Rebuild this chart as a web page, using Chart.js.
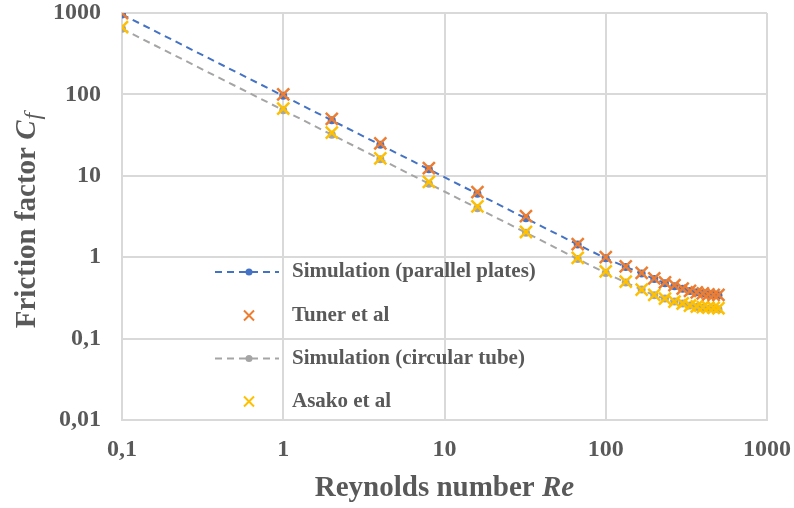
<!DOCTYPE html>
<html>
<head>
<meta charset="utf-8">
<script src="https://cdn.jsdelivr.net/npm/chart.js@4"></script>
<style>
  body { margin: 0; background: #fff; }
  canvas { display: block; }
</style>
</head>
<body>
<canvas id="chart" width="794" height="508"></canvas>
<script>
// Reynolds numbers (x)
const reynolds = [0.1, 1, 2, 4, 8, 16, 32, 67, 100, 133, 167, 200, 233, 267, 300, 333, 367, 400, 433, 467, 500];

// friction factor values
const simParallel = [960, 96, 48, 24, 12, 6, 3, 1.43, 0.97, 0.76, 0.63, 0.54, 0.48, 0.44, 0.41, 0.385, 0.37, 0.36, 0.35, 0.345, 0.34];
const tuner       = [1000, 100, 50, 25, 12.4, 6.3, 3.2, 1.45, 1.0, 0.77, 0.64, 0.55, 0.49, 0.455, 0.41, 0.385, 0.37, 0.36, 0.35, 0.345, 0.345];
const simCircular = [640, 64, 32, 16, 8, 4, 2, 0.95, 0.64, 0.49, 0.40, 0.34, 0.31, 0.285, 0.27, 0.255, 0.245, 0.24, 0.235, 0.232, 0.23];
const asako       = [670, 67, 34, 16.4, 8.4, 4.2, 2.04, 0.98, 0.67, 0.50, 0.40, 0.345, 0.31, 0.285, 0.27, 0.255, 0.248, 0.243, 0.24, 0.238, 0.236];

const seriesNames = ['Simulation (parallel plates)', 'Tuner et al', 'Simulation (circular tube)', 'Asako et al'];

const xTicks = [0.1, 1, 10, 100, 1000];
const xTickLabels = ['0,1', '1', '10', '100', '1000'];
const yTicks = [0.01, 0.1, 1, 10, 100, 1000];
const yTickLabels = ['0,01', '0,1', '1', '10', '100', '1000'];

const TEXT = '#595959';
const GRID = '#d9d9d9';
const SERIF = '"Liberation Serif", "Times New Roman", serif';

function pts(ys) {
  return reynolds.map((x, i) => ({ x: x, y: ys[i] }));
}

const datasets = [
  { label: seriesNames[0], data: pts(simParallel), showLine: true, borderColor: '#4472C4', backgroundColor: '#4472C4',
    borderWidth: 2, borderDash: [7, 5], pointStyle: 'circle', pointRadius: 4, pointBorderWidth: 0, order: 3 },
  { label: seriesNames[1], data: pts(tuner), showLine: false, borderColor: '#ED7D31', backgroundColor: '#ED7D31',
    pointStyle: 'crossRot', pointRadius: 8.5, pointBorderWidth: 2.5, order: 1 },
  { label: seriesNames[2], data: pts(simCircular), showLine: true, borderColor: '#A5A5A5', backgroundColor: '#A5A5A5',
    borderWidth: 2, borderDash: [7, 5], pointStyle: 'circle', pointRadius: 4, pointBorderWidth: 0, order: 4 },
  { label: seriesNames[3], data: pts(asako), showLine: false, borderColor: '#FFC000', backgroundColor: '#FFC000',
    pointStyle: 'crossRot', pointRadius: 8.5, pointBorderWidth: 2.5, order: 2 }
];

// titles with italic parts + legend sitting inside the plot
const extras = {
  id: 'extras',
  afterDraw(chart) {
    const ctx = chart.ctx;
    ctx.save();
    ctx.fillStyle = TEXT;
    ctx.textBaseline = 'middle';

    // x title
    const a = 'Reynolds number ', b = 'Re';
    ctx.font = 'bold 29px ' + SERIF;
    const wa = ctx.measureText(a).width;
    ctx.font = 'italic bold 29px ' + SERIF;
    const wb = ctx.measureText(b).width;
    let x0 = (chart.chartArea.left + chart.chartArea.right) / 2 - (wa + wb) / 2;
    ctx.textAlign = 'left';
    ctx.font = 'bold 29px ' + SERIF;
    ctx.fillText(a, x0, 489);
    ctx.font = 'italic bold 29px ' + SERIF;
    ctx.fillText(b, x0 + wa, 489);

    // y title
    ctx.translate(28, 221);
    ctx.rotate(-Math.PI / 2);
    const c = 'Friction factor ', d = 'C', e = 'f';
    ctx.font = 'bold 29px ' + SERIF;
    const wc = ctx.measureText(c).width;
    ctx.font = 'italic bold 29px ' + SERIF;
    const wd = ctx.measureText(d).width;
    ctx.font = 'italic 24px ' + SERIF;
    const we = ctx.measureText(e).width;
    let y0 = -(wc + wd + we) / 2;
    ctx.font = 'bold 29px ' + SERIF;
    ctx.fillText(c, y0, 0);
    ctx.font = 'italic bold 29px ' + SERIF;
    ctx.fillText(d, y0 + wc, 0);
    ctx.font = 'italic 24px ' + SERIF;
    ctx.fillText(e, y0 + wc + wd + 1, 6);
    ctx.setTransform(1, 0, 0, 1, 0, 0);

    // legend
    const rows = [272, 315.5, 358.5, 401.5];
    chart.data.datasets.forEach((ds, i) => {
      const y = rows[i];
      if (ds.showLine) {
        ctx.strokeStyle = ds.borderColor;
        ctx.lineWidth = 2;
        ctx.setLineDash([7, 5]);
        ctx.beginPath();
        ctx.moveTo(215, y);
        ctx.lineTo(279, y);
        ctx.stroke();
        ctx.setLineDash([]);
        ctx.fillStyle = ds.backgroundColor;
        ctx.beginPath();
        ctx.arc(249, y, 3.5, 0, Math.PI * 2);
        ctx.fill();
      } else {
        ctx.strokeStyle = ds.borderColor;
        ctx.lineWidth = 2;
        ctx.beginPath();
        ctx.moveTo(244, y - 5); ctx.lineTo(254, y + 5);
        ctx.moveTo(254, y - 5); ctx.lineTo(244, y + 5);
        ctx.stroke();
      }
      ctx.fillStyle = TEXT;
      ctx.font = 'bold 21px ' + SERIF;
      ctx.textAlign = 'left';
      ctx.fillText(ds.label, 292, y);
    });
    ctx.restore();
  }
};

new Chart(document.getElementById('chart'), {
  type: 'scatter',
  data: { datasets: datasets },
  options: {
    responsive: false,
    animation: false,
    layout: { padding: { top: 13, right: 27, left: 0, bottom: 0 } },
    plugins: { legend: { display: false }, tooltip: { enabled: false } },
    scales: {
      x: {
        type: 'logarithmic', min: 0.1, max: 1000,
        afterBuildTicks: s => { s.ticks = xTicks.map(v => ({ value: v })); },
        afterFit: s => { s.height = 88; s.paddingLeft = 0; s.paddingRight = 0; },
        ticks: {
          callback: (v, i) => xTickLabels[i],
          font: { family: SERIF, size: 24, weight: 'bold' }, color: TEXT,
          padding: 15, maxRotation: 0, autoSkip: false
        },
        grid: { color: GRID, lineWidth: 2, drawTicks: false },
        border: { color: GRID, width: 2 }
      },
      y: {
        type: 'logarithmic', min: 0.01, max: 1000,
        afterBuildTicks: s => { s.ticks = yTicks.map(v => ({ value: v })); },
        afterFit: s => { s.width = 122; s.paddingTop = 0; s.paddingBottom = 0; },
        ticks: {
          callback: (v, i) => yTickLabels[i],
          font: { family: SERIF, size: 24, weight: 'bold' }, color: TEXT,
          padding: 21, autoSkip: false
        },
        grid: { color: GRID, lineWidth: 2, drawTicks: false },
        border: { color: GRID, width: 2 }
      }
    }
  },
  plugins: [extras]
});
</script>
</body>
</html>
